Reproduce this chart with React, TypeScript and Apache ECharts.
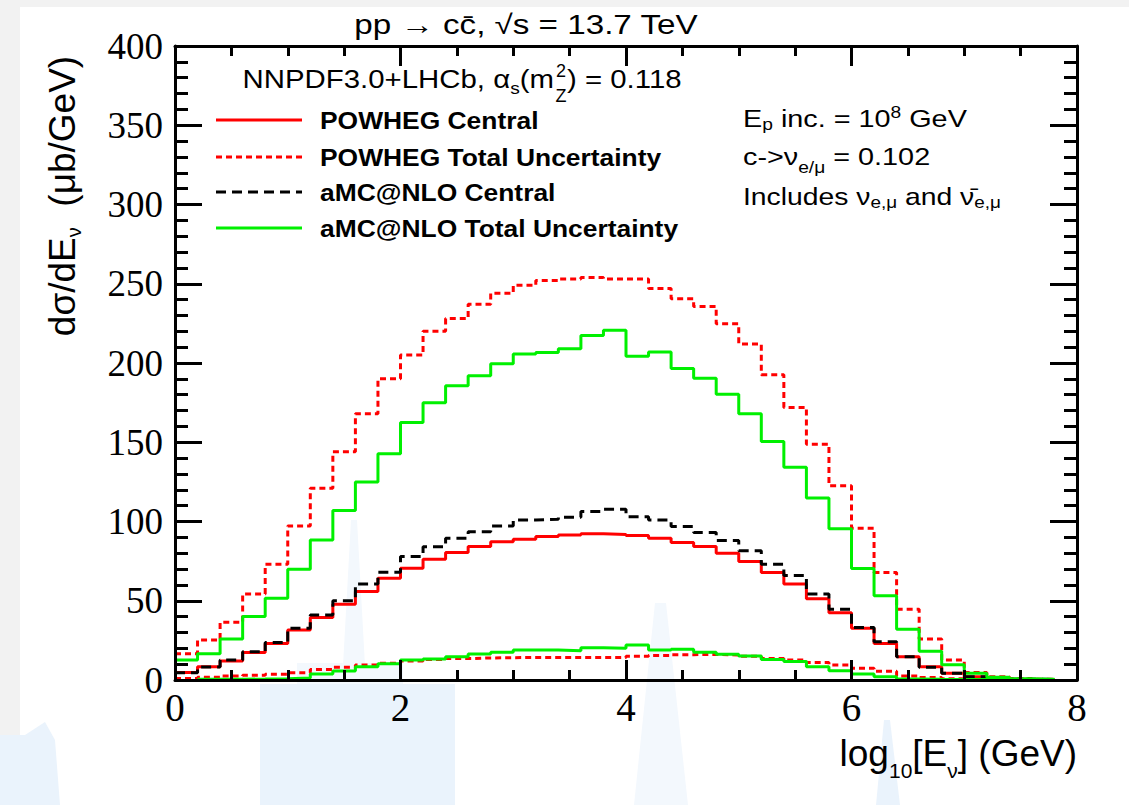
import React, { useEffect, useRef } from 'react';
import * as echarts from 'echarts';

// ---- data (bin width 0.2 in log10[E_nu]) ----
const binEdges = [
  0.0, 0.2, 0.4, 0.6, 0.8, 1.0, 1.2, 1.4, 1.6, 1.8,
  2.0, 2.2, 2.4, 2.6, 2.8, 3.0, 3.2, 3.4, 3.6, 3.8,
  4.0, 4.2, 4.4, 4.6, 4.8, 5.0, 5.2, 5.4, 5.6, 5.8,
  6.0, 6.2, 6.4, 6.6, 6.8, 7.0, 7.2, 7.4, 7.6, 7.8, 8.0,
];

const powhegCentral = [
  4.8, 8.4, 12.0, 17.3, 23.1, 31.6, 39.4, 47.8, 55.8, 64.2,
  70.5, 76.2, 80.4, 84.2, 87.3, 88.8, 90.5, 91.5, 92.2, 91.8,
  91.1, 89.4, 86.7, 84.2, 80.0, 74.7, 67.8, 60.6, 51.3, 42.5,
  32.6, 23.1, 14.7, 8.4, 4.2, 2.1, 1.0, 0.4, 0.2, null,
];
const powhegUpper = [
  16.5, 25.3, 36.5, 54.3, 73.0, 97.2, 121.0, 144.0, 168.0, 190.0,
  205.0, 220.0, 228.0, 237.0, 244.0, 249.0, 252.0, 253.0, 254.0, 253.0,
  253.0, 247.0, 240.5, 235.7, 224.7, 212.0, 192.6, 172.0, 148.8, 122.5,
  95.7, 67.8, 44.6, 25.9, 12.6, 4.8, 2.1, 1.0, 0.5, null,
];
const powhegLower = [
  1.0, 1.7, 2.5, 3.0, 3.6, 4.6, 6.7, 8.0, 9.5, 10.5,
  12.0, 13.0, 13.5, 13.9, 14.1, 14.2, 14.2, 14.2, 14.2, 14.2,
  15.0, 15.5, 16.0, 16.2, 15.8, 15.0, 13.5, 12.6, 11.0, 9.5,
  7.4, 5.5, 2.5, 1.5, 0.8, 0.6, 0.4, 0.3, 0.2, null,
];
const amcCentral = [
  4.5, 8.2, 12.6, 17.9, 23.6, 32.6, 41.0, 50.0, 60.6, 68.0,
  77.9, 84.0, 89.4, 93.6, 97.2, 101.0, 101.4, 102.7, 106.3, 107.7,
  103.0, 101.0, 96.8, 93.0, 88.0, 81.6, 73.0, 65.9, 54.3, 44.6,
  33.2, 24.2, 14.7, 8.0, 4.2, 2.1, 1.0, 0.5, 0.3, null,
];
const amcUpper = [
  12.6, 16.5, 25.8, 40.0, 51.6, 69.9, 88.4, 106.9, 125.0, 142.7,
  162.5, 175.0, 185.6, 191.9, 199.5, 205.6, 206.6, 209.0, 217.4, 220.7,
  204.3, 207.0, 196.5, 190.4, 180.3, 168.0, 150.5, 134.3, 114.9, 95.5,
  70.3, 53.2, 32.0, 18.1, 9.7, 4.2, 1.7, 0.8, 0.4, null,
];
const amcLower = [
  null, 0.4, 0.5, 0.6, 0.8, 1.2, 3.8, 5.7, 8.4, 10.2,
  12.6, 13.3, 14.7, 16.4, 17.5, 18.9, 18.9, 18.5, 20.4, 20.0,
  22.1, 18.9, 19.4, 17.5, 16.2, 15.2, 13.0, 11.6, 8.4, 5.9,
  3.8, 2.1, 0.6, 0.4, 0.3, 0.3, 0.3, 0.3, 0.3, null,
];

const legendNames = [
  'POWHEG Central',
  'POWHEG Total Uncertainty',
  'aMC@NLO Central',
  'aMC@NLO Total Uncertainty',
];

const X_MIN = 0, X_MAX = 8, X_MAJOR = 2;
const Y_MIN = 0, Y_MAX = 400, Y_MAJOR = 50;

const SANS = "'Liberation Sans', Arial, Helvetica, sans-serif";
const SERIF = "'Liberation Serif', 'Times New Roman', serif";

const RED = '#ff0000';
const GREEN = '#00f000';
const BLACK = '#000000';
const DOT: number[] = [6, 4];
const DASH: number[] = [10, 6];

const GRID = { left: 175, right: 52, top: 46, bottom: 125 };

// histogram outline: left-edge points + closing right edge, only over filled bins
function histSteps(vals: (number | null)[]) {
  let first = 0;
  while (first < vals.length && vals[first] == null) first++;
  let last = vals.length - 1;
  while (last >= 0 && vals[last] == null) last--;
  const pts: number[][] = [];
  for (let i = first; i <= last; i++) pts.push([binEdges[i], vals[i] as number]);
  if (last >= first) pts.push([binEdges[last + 1], vals[last] as number]);
  return pts;
}

function R(F: number, s: number, d: number) {
  const H = 2 * d + s;
  return {
    n: { fontSize: F, fontFamily: SANS, fill: '#000', lineHeight: H },
    sub: { fontSize: s, fontFamily: SANS, fill: '#000', lineHeight: s, verticalAlign: 'bottom' },
    sup: { fontSize: s, fontFamily: SANS, fill: '#000', lineHeight: s, verticalAlign: 'top' },
  };
}

const WM = '#eaf3fc';
const WM2 = '#f3f8fd';
const legendRows = [120, 157, 192, 228];

// ---------- layer 1: watermark, histograms, texts ----------
function contentOption(): any {
  const line = (name: string, vals: (number | null)[], color: string, type: any) => ({
    name,
    type: 'line',
    step: 'end',
    data: histSteps(vals),
    symbol: 'none',
    showSymbol: false,
    silent: true,
    itemStyle: { color },
    lineStyle: { color, width: 3, type },
  });
  const legendStyles: any[] = [
    { color: RED, type: null },
    { color: RED, type: DOT },
    { color: BLACK, type: DASH },
    { color: GREEN, type: null },
  ];
  const legendGraphics: any[] = [];
  legendNames.forEach((nm, i) => {
    const y = legendRows[i];
    const st = legendStyles[i];
    legendGraphics.push({
      type: 'line', silent: true, z: 10,
      shape: { x1: 216, y1: y, x2: 302, y2: y },
      style: { stroke: st.color, lineWidth: 3, lineDash: st.type },
    });
    legendGraphics.push({
      type: 'text', x: 320, y, scaleX: 1.1, silent: true, z: 10,
      style: { text: nm, fontSize: 24, fontWeight: 'bold', fontFamily: SANS, fill: '#000', align: 'left', verticalAlign: 'middle' },
    });
  });
  return {
    animation: false,
    grid: GRID,
    xAxis: { type: 'value', min: X_MIN, max: X_MAX, show: false },
    yAxis: { type: 'value', min: Y_MIN, max: Y_MAX, show: false },
    series: [
      line(legendNames[0], powhegCentral, RED, 'solid'),
      line(legendNames[1], powhegUpper, RED, DOT),
      line(legendNames[1], powhegLower, RED, DOT),
      line(legendNames[2], amcCentral, BLACK, DASH),
      line(legendNames[3], amcUpper, GREEN, 'solid'),
      line(legendNames[3], amcLower, GREEN, 'solid'),
    ],
    graphic: [
      { type: 'rect', shape: { x: 0, y: 0, width: 1129, height: 7 }, style: { fill: '#f2f2f2' }, silent: true, z: -10 },
      { type: 'rect', shape: { x: 0, y: 7, width: 20, height: 728 }, style: { fill: '#f2f2f2' }, silent: true, z: -10 },
      { type: 'polygon', shape: { points: [[0, 735], [25, 735], [45, 722], [55, 740], [60, 805], [0, 805]] }, style: { fill: WM }, silent: true, z: -10 },
      { type: 'rect', shape: { x: 260, y: 684, width: 195, height: 121 }, style: { fill: WM }, silent: true, z: -10 },
      { type: 'rect', shape: { x: 297, y: 663, width: 106, height: 21 }, style: { fill: WM2 }, silent: true, z: -10 },
      { type: 'polygon', shape: { points: [[351, 520], [357, 520], [366, 684], [342, 684]] }, style: { fill: WM2 }, silent: true, z: -10 },
      { type: 'polygon', shape: { points: [[655, 603], [666, 603], [688, 805], [634, 805]] }, style: { fill: WM2 }, silent: true, z: -10 },
      { type: 'polygon', shape: { points: [[884, 720], [890, 720], [900, 805], [876, 805]] }, style: { fill: WM }, silent: true, z: -10 },

      { type: 'text', x: 526, y: 25, scaleX: 1.23, silent: true, z: 10,
        style: { text: 'pp → cc̄, √s = 13.7 TeV', fontSize: 27, fontFamily: SANS, fill: '#000', align: 'center', verticalAlign: 'middle' } },

      { type: 'text', x: 554, y: 79, scaleX: 1.13, silent: true, z: 10,
        style: { text: '{n|NNPDF3.0+LHCb, α}{sub|s}{n|(m}', rich: R(26, 17, 9), align: 'right', verticalAlign: 'middle' } },
      { type: 'text', x: 567, y: 79, scaleX: 1.13, silent: true, z: 10,
        style: { text: ') = 0.118', fontSize: 26, fontFamily: SANS, fill: '#000', align: 'left', verticalAlign: 'middle' } },
      { type: 'text', x: 561, y: 71, silent: true, z: 10,
        style: { text: '2', fontSize: 18, fontFamily: SANS, fill: '#000', align: 'center', verticalAlign: 'middle' } },
      { type: 'text', x: 561, y: 96, silent: true, z: 10,
        style: { text: 'Z', fontSize: 18, fontFamily: SANS, fill: '#000', align: 'center', verticalAlign: 'middle' } },

      ...legendGraphics,

      { type: 'text', x: 743, y: 119, scaleX: 1.2, silent: true, z: 10,
        style: { text: '{n|E}{sub|p}{n| inc. = 10}{sup|8}{n| GeV}', rich: R(24, 16, 6), align: 'left', verticalAlign: 'middle' } },
      { type: 'text', x: 743, y: 157, scaleX: 1.2, silent: true, z: 10,
        style: { text: '{n|c->ν}{sub|e/μ}{n| = 0.102}', rich: R(24, 16, 11), align: 'left', verticalAlign: 'middle' } },
      { type: 'text', x: 743, y: 197, scaleX: 1.18, silent: true, z: 10,
        style: { text: '{n|Includes ν}{sub|e,μ}{n| and ν̄}{sub|e,μ}', rich: R(24, 16, 6), align: 'left', verticalAlign: 'middle' } },

      { type: 'text', x: 62, y: 196, rotation: Math.PI / 2, silent: true, z: 10,
        style: { text: '{n|dσ/dE}{sub|ν}{n|  (μb/GeV)}', rich: R(37, 20, 12), align: 'center', verticalAlign: 'middle' } },
      { type: 'text', x: 1077, y: 753, silent: true, z: 10,
        style: { text: '{n|log}{sub|10}{n|[E}{sub|ν}{n|] (GeV)}', rich: R(37, 21, 17), align: 'right', verticalAlign: 'middle' } },
    ],
  };
}

// ---------- layer 2: bottom/left axes with labels ----------
function mainAxesOption(): any {
  return {
    animation: false,
    backgroundColor: 'transparent',
    grid: GRID,
    xAxis: {
      type: 'value', min: X_MIN, max: X_MAX, interval: X_MAJOR, position: 'bottom',
      axisLine: { show: true, onZero: false, lineStyle: { color: '#000', width: 3 } },
      axisTick: { show: true, inside: true, length: 20, lineStyle: { color: '#000', width: 3 } },
      minorTick: { show: true, splitNumber: 4, length: 10, lineStyle: { color: '#000', width: 3 } },
      splitLine: { show: false },
      axisLabel: { fontFamily: SERIF, fontSize: 39, color: '#000', margin: 8 },
    },
    yAxis: {
      type: 'value', min: Y_MIN, max: Y_MAX, interval: Y_MAJOR, position: 'left',
      axisLine: { show: true, onZero: false, lineStyle: { color: '#000', width: 3 } },
      axisTick: { show: true, inside: true, length: 27, lineStyle: { color: '#000', width: 3 } },
      minorTick: { show: true, splitNumber: 5, length: 13, lineStyle: { color: '#000', width: 3 } },
      splitLine: { show: false },
      axisLabel: { fontFamily: SERIF, fontSize: 37, color: '#000', margin: 12 },
    },
  };
}

// ---------- layer 3: top/right frame axes (ticks only) ----------
function frameAxesOption(): any {
  return {
    animation: false,
    backgroundColor: 'transparent',
    grid: GRID,
    xAxis: {
      type: 'value', min: X_MIN, max: X_MAX, interval: X_MAJOR, position: 'top',
      axisLine: { show: true, onZero: false, lineStyle: { color: '#000', width: 3 } },
      axisTick: { show: true, inside: true, length: 20, lineStyle: { color: '#000', width: 3 } },
      minorTick: { show: true, splitNumber: 4, length: 10, lineStyle: { color: '#000', width: 3 } },
      splitLine: { show: false },
      axisLabel: { show: true, formatter: () => '' },
    },
    yAxis: {
      type: 'value', min: Y_MIN, max: Y_MAX, interval: Y_MAJOR, position: 'right',
      axisLine: { show: true, onZero: false, lineStyle: { color: '#000', width: 3 } },
      axisTick: { show: true, inside: true, length: 27, lineStyle: { color: '#000', width: 3 } },
      minorTick: { show: true, splitNumber: 5, length: 13, lineStyle: { color: '#000', width: 3 } },
      splitLine: { show: false },
      axisLabel: { show: true, formatter: () => '' },
    },
  };
}

function Layer({ make, z, bg }: { make: () => any; z: number; bg?: string }) {
  const ref = useRef<HTMLDivElement>(null);
  useEffect(() => {
    if (!ref.current) return;
    const chart = echarts.init(ref.current, undefined, { renderer: 'svg' });
    chart.setOption(make());
    return () => chart.dispose();
  }, [make]);
  return (
    <div
      ref={ref}
      style={{ position: 'fixed', left: 0, top: 0, width: 1129, height: 805, zIndex: z, background: bg || 'transparent', pointerEvents: 'none' }}
    />
  );
}

export default function App() {
  return (
    <div>
      <Layer make={contentOption} z={0} bg="#ffffff" />
      <Layer make={mainAxesOption} z={1} />
      <Layer make={frameAxesOption} z={2} />
    </div>
  );
}
